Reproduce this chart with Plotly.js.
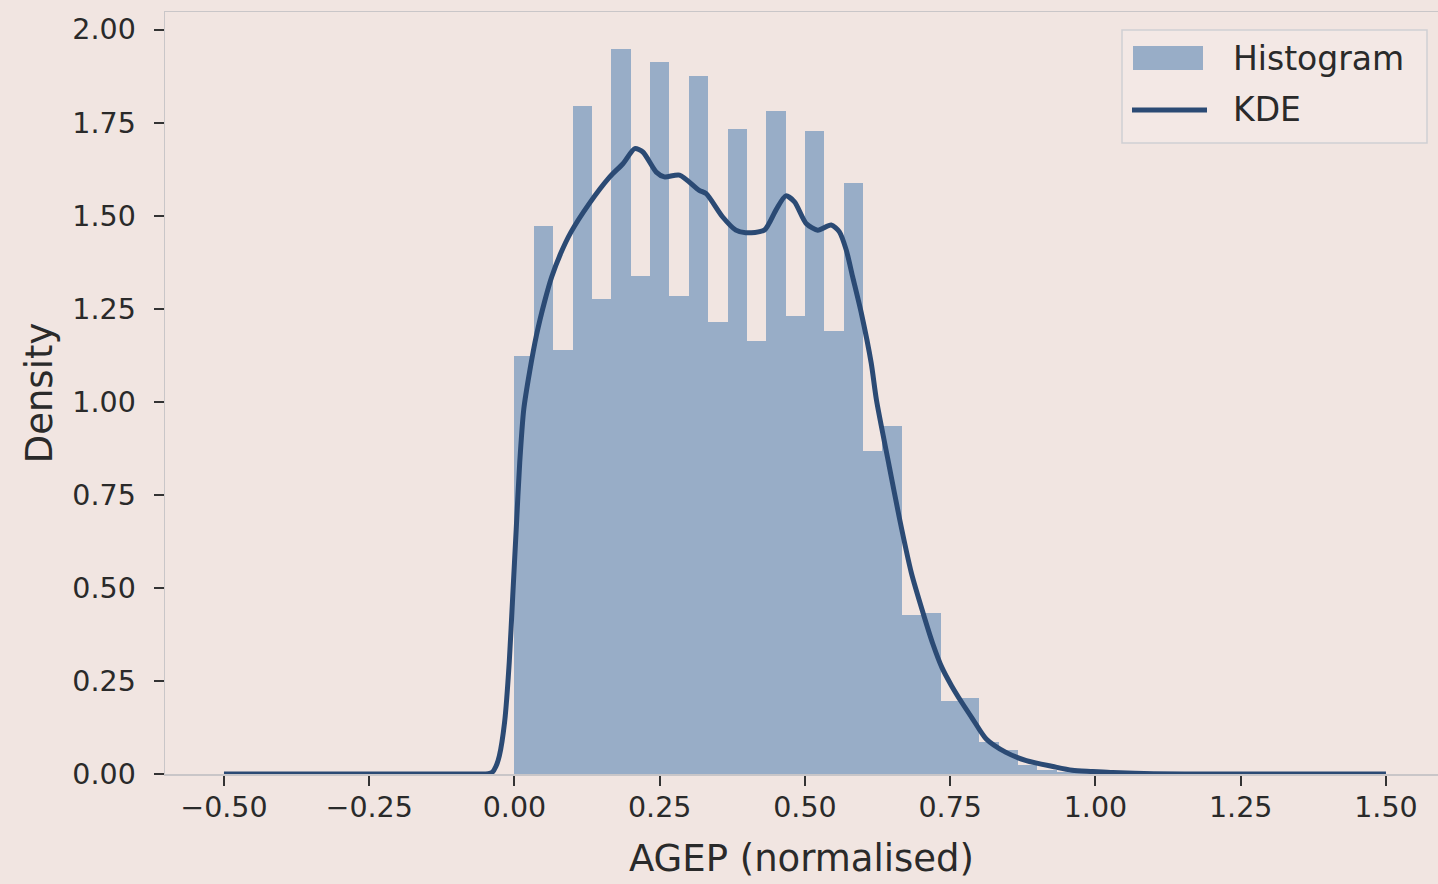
<!DOCTYPE html>
<html>
<head>
<meta charset="utf-8">
<script src="https://cdn.plot.ly/plotly-3.0.1.min.js"></script>
<style>
  html, body { margin: 0; padding: 0; background: #f1e5e1; overflow: hidden; }
  #chart { width: 1438px; height: 884px; }
</style>
</head>
<body>
<div id="chart"></div>
<script>
// Histogram: 30 bins of width 1/30 on [0, 1]
const binWidth = 1 / 30;
const histDensity = [1.123, 1.473, 1.138, 1.794, 1.275, 1.948, 1.339, 1.914, 1.285, 1.875,
                     1.213, 1.734, 1.164, 1.782, 1.231, 1.728, 1.191, 1.587, 0.869, 0.936,
                     0.426, 0.433, 0.197, 0.205, 0.085, 0.065, 0.025, 0.012, 0.006, 0.004];
const histCenters = histDensity.map((_, i) => (i + 0.5) * binWidth);

// KDE curve
const kdeX = [-0.50, -0.30, -0.10, -0.06, -0.045, -0.038, -0.032, -0.026, -0.017, -0.009, -0.003,
              0.003, 0.009, 0.016, 0.026, 0.038, 0.052, 0.064, 0.080, 0.097, 0.129, 0.164, 0.187,
              0.207, 0.221, 0.244, 0.258, 0.284, 0.318, 0.330, 0.358, 0.381, 0.398, 0.430,
              0.450, 0.467, 0.482, 0.502, 0.522, 0.545, 0.559, 0.571, 0.582, 0.597, 0.614,
              0.623, 0.645, 0.663, 0.683, 0.703, 0.720, 0.736, 0.752, 0.770, 0.789, 0.812, 0.846, 0.881,
              0.927, 0.96, 0.995, 1.03, 1.10, 1.20, 1.35, 1.50];
const kdeY = [0.000, 0.000, 0.000, 0.000, 0.001, 0.005, 0.020, 0.049, 0.139, 0.300, 0.478,
              0.657, 0.836, 0.980, 1.080, 1.180, 1.270, 1.335, 1.400, 1.455, 1.533, 1.604, 1.640,
              1.680, 1.671, 1.617, 1.604, 1.609, 1.568, 1.559, 1.497, 1.461, 1.454, 1.461,
              1.515, 1.553, 1.537, 1.479, 1.461, 1.475, 1.457, 1.408, 1.336, 1.238, 1.104,
              1.005, 0.827, 0.684, 0.541, 0.434, 0.350, 0.285, 0.238, 0.192, 0.147, 0.094, 0.058, 0.036,
              0.020, 0.010, 0.007, 0.004, 0.001, 0.000, 0.000, 0.000];

const xTicks = [-0.50, -0.25, 0.00, 0.25, 0.50, 0.75, 1.00, 1.25, 1.50];
const yTicks = [0.00, 0.25, 0.50, 0.75, 1.00, 1.25, 1.50, 1.75, 2.00];
const legendLabels = ['Histogram', 'KDE'];

const BG = '#f1e5e1';
const BAR = '#98adc7';
const LINE = '#2b4a74';
const TXT = '#2a2a2a';
const SPINE = '#c9c6c8';

// pixel -> paper helpers for the hand-made legend
const L = 165, W = 1273, B = 774, H = 762;
const px = v => (v - L) / W;
const py = v => (B - v) / H;

const traces = [
  {
    type: 'bar', x: histCenters, y: histDensity, width: binWidth,
    marker: { color: BAR, line: { width: 0 } }, name: legendLabels[0],
    hoverinfo: 'x+y', showlegend: false
  },
  {
    type: 'scatter', mode: 'lines', x: kdeX, y: kdeY,
    line: { color: LINE, width: 5, shape: 'spline', smoothing: 0.7 },
    name: legendLabels[1], showlegend: false
  }
];

const layout = {
  width: 1438, height: 884,
  paper_bgcolor: BG, plot_bgcolor: BG,
  margin: { l: L, r: 0, t: 12, b: 884 - B },
  showlegend: false,
  bargap: 0,
  font: { family: 'DejaVu Sans, sans-serif', color: TXT },
  xaxis: {
    range: [-0.6015, -0.6015 + W / 581],
    tickvals: xTicks, ticktext: xTicks.map(v => (v < 0 ? '\u2212' : '') + Math.abs(v).toFixed(2)),
    ticks: 'outside', ticklen: 10, tickwidth: 2, tickcolor: '#333',
    tickfont: { size: 28.5, color: TXT },
    ticklabelstandoff: -3,
    showline: true, linecolor: SPINE, linewidth: 1.5, mirror: true,
    showgrid: false, zeroline: false,
    title: { text: 'AGEP (normalised)', font: { size: 37, color: TXT }, standoff: 22 }
  },
  yaxis: {
    range: [0, 2.047],
    tickvals: yTicks, ticktext: yTicks.map(v => v.toFixed(2)),
    ticks: 'outside', ticklen: 10, tickwidth: 2, tickcolor: '#333',
    tickfont: { size: 28.5, color: TXT },
    ticklabelstandoff: 12,
    showline: true, linecolor: SPINE, linewidth: 1.5,
    showgrid: false, zeroline: false,
    title: { text: 'Density', font: { size: 37, color: TXT }, standoff: 8 }
  },
  shapes: [
    { type: 'rect', xref: 'paper', yref: 'paper', x0: px(1122), x1: px(1427), y0: py(143), y1: py(30),
      line: { color: '#d0cfd3', width: 1.5 }, fillcolor: '#f3e8e5', layer: 'above' },
    { type: 'rect', xref: 'paper', yref: 'paper', x0: px(1133), x1: px(1203), y0: py(70), y1: py(46),
      line: { width: 0 }, fillcolor: BAR, layer: 'above' },
    { type: 'line', xref: 'paper', yref: 'paper', x0: px(1132), x1: px(1207), y0: py(110), y1: py(110),
      line: { color: LINE, width: 5 }, layer: 'above' }
  ],
  annotations: [
    { xref: 'paper', yref: 'paper', x: px(1231), y: py(58), xanchor: 'left', yanchor: 'middle',
      text: legendLabels[0], showarrow: false, font: { size: 33, color: TXT } },
    { xref: 'paper', yref: 'paper', x: px(1231), y: py(110), xanchor: 'left', yanchor: 'middle',
      text: legendLabels[1], showarrow: false, font: { size: 33, color: TXT } }
  ]
};

Plotly.newPlot('chart', traces, layout, { displayModeBar: false, staticPlot: true });
</script>
</body>
</html>
